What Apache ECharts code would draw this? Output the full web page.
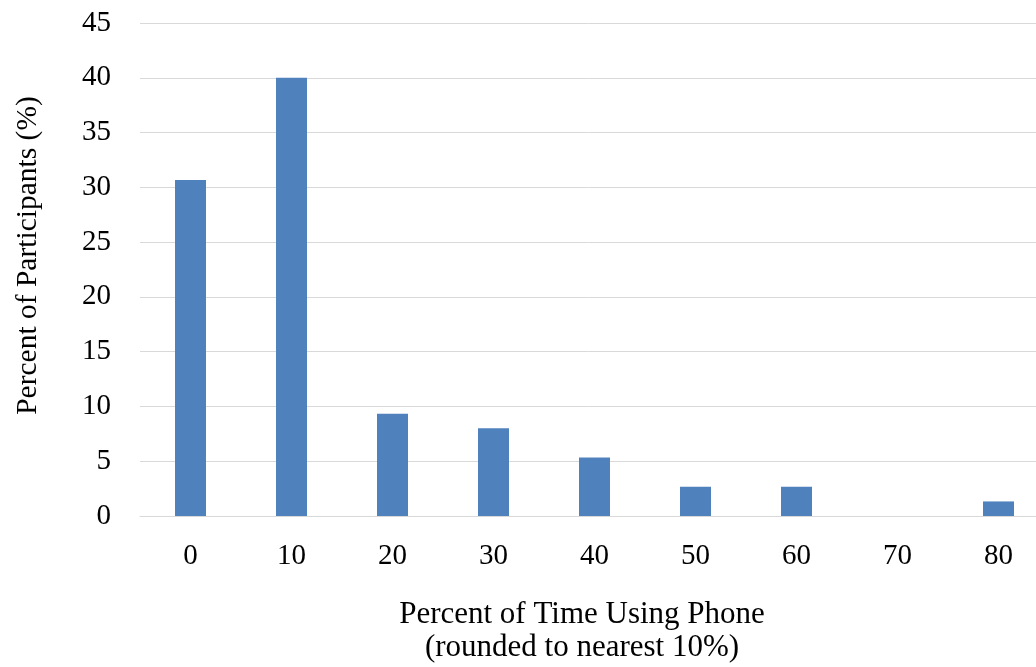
<!DOCTYPE html>
<html>
<head>
<meta charset="utf-8">
<script src="https://cdn.jsdelivr.net/npm/echarts@6/dist/echarts.min.js"></script>
<style>
  html, body { margin: 0; padding: 0; background: #fff; }
  #chart { width: 1036px; height: 667px; }
</style>
</head>
<body>
<div id="chart"></div>
<script>
// time using phone (rounded to nearest 10%)
var categories = ['0', '10', '20', '30', '40', '50', '60', '70', '80'];
// percent of participants
var percents = [30.67, 40, 9.33, 8, 5.33, 2.67, 2.67, 0, 1.33];

var chart = echarts.init(document.getElementById('chart'));
var font = '"Liberation Serif", "Times New Roman", serif';

var option = {
  animation: false,
  textStyle: { fontFamily: font },
  grid: {
    left: 140,
    right: -13,
    top: 23,
    bottom: 151,
    outerBoundsMode: 'none'
  },
  xAxis: {
    type: 'category',
    data: categories,
    axisLine: { show: true, lineStyle: { color: '#d9d9d9', width: 1 } },
    axisTick: { show: false },
    axisLabel: { color: '#000', fontSize: 29, fontFamily: font, margin: 26 },
    name: 'Percent of Time Using Phone\n(rounded to nearest 10%)',
    nameLocation: 'middle',
    nameGap: 82,
    nameTextStyle: {
      color: '#000', fontSize: 31, fontFamily: font, lineHeight: 33,
      padding: [0, 25, 0, 0]
    }
  },
  yAxis: {
    type: 'value',
    min: 0,
    max: 45,
    interval: 5,
    axisLine: { show: false },
    axisTick: { show: false },
    splitLine: { lineStyle: { color: '#d9d9d9', width: 1 } },
    axisLabel: { color: '#000', fontSize: 29, fontFamily: font, margin: 29 },
    name: 'Percent of Participants (%)',
    nameLocation: 'middle',
    nameGap: 97,
    nameTextStyle: {
      color: '#000', fontSize: 29.5, fontFamily: font,
      padding: [0, 0, 0, 28]
    }
  },
  series: [{
    type: 'bar',
    data: percents,
    barWidth: 31,
    itemStyle: { color: '#4f81bd' }
  }]
};
chart.setOption(option);
</script>
</body>
</html>
